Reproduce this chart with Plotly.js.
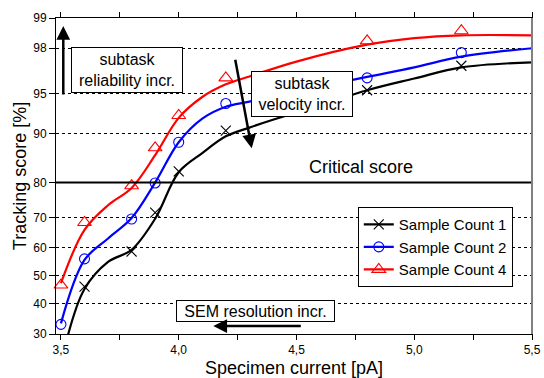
<!DOCTYPE html>
<html>
<head>
<meta charset="utf-8">
<script src="https://cdn.plot.ly/plotly-3.0.1.min.js"></script>
<style>html,body{margin:0;padding:0;background:#fff;}#chart{width:544px;height:378px;}</style>
</head>
<body>
<div id="chart"></div>
<script>
// ---- data (percent values) ----
const seriesNames = ["Sample Count 1", "Sample Count 2", "Sample Count 4"];

const markX1 = [3.6, 3.8, 3.9, 4.0, 4.2, 4.8, 5.2];
const markY1 = [46.1, 58.7, 71.6, 82.7, 90.5, 95.3, 97.1];
const markX2 = [3.5, 3.6, 3.8, 3.9, 4.0, 4.2, 4.8, 5.2];
const markY2 = [33.1, 56.1, 69.6, 79.9, 88.6, 94.0, 96.3, 97.8];
const markX4 = [3.5, 3.6, 3.8, 3.9, 4.0, 4.2, 4.8, 5.2];
const markY4 = [46.7, 68.5, 79.2, 87.6, 92.6, 96.3, 98.3, 98.65];

// fitted curves
const fitX1 = [3.53, 3.6, 3.7, 3.8, 3.9, 4.0, 4.1, 4.2, 4.3, 4.4, 4.6, 4.8, 5.0, 5.2, 5.5];
const fitY1 = [29.7, 45.3, 55.0, 59.3, 69.7, 82.5, 86.6, 89.6, 90.95, 92.05, 93.8, 95.3, 96.25, 97.0, 97.3];
const fitX2 = [3.5, 3.6, 3.7, 3.8, 3.9, 4.0, 4.1, 4.2, 4.3, 4.5, 4.8, 5.0, 5.2, 5.5];
const fitY2 = [33.4, 55.7, 63.2, 69.9, 80.0, 88.6, 92.2, 93.65, 94.2, 95.2, 96.37, 97.0, 97.6, 98.0];
const fitX4 = [3.5, 3.6, 3.7, 3.8, 3.9, 4.0, 4.1, 4.2, 4.3, 4.5, 4.8, 5.0, 5.2, 5.5];
const fitY4 = [47.35, 66.1, 73.8, 78.6, 86.2, 92.3, 94.67, 95.8, 96.4, 97.34, 98.15, 98.4, 98.5, 98.5];

const yTickValues = [30, 40, 50, 60, 70, 80, 90, 95, 98, 99];
const yRange = [30, 99];
const xRange = [3.479, 5.5];
const criticalScore = 80;

// ---- probability (probit) scale ----
function probit(p) {
  const a = [-3.969683028665376e+01, 2.209460984245205e+02, -2.759285104469687e+02, 1.383577518672690e+02, -3.066479806614716e+01, 2.506628277459239e+00];
  const b = [-5.447609879822406e+01, 1.615858368580409e+02, -1.556989798598866e+02, 6.680131188771972e+01, -1.328068155288572e+01];
  const c = [-7.784894002430293e-03, -3.223964580411365e-01, -2.400758277161838e+00, -2.549671348172474e+00, 4.374664141464968e+00, 2.938163982698783e+00];
  const d = [7.784695709041462e-03, 3.224671290700398e-01, 2.445134137142996e+00, 3.754408661907416e+00];
  const plow = 0.02425, phigh = 1 - plow;
  let q, r;
  if (p < plow) {
    q = Math.sqrt(-2 * Math.log(p));
    return (((((c[0]*q+c[1])*q+c[2])*q+c[3])*q+c[4])*q+c[5]) / ((((d[0]*q+d[1])*q+d[2])*q+d[3])*q+1);
  } else if (p <= phigh) {
    q = p - 0.5; r = q*q;
    return (((((a[0]*r+a[1])*r+a[2])*r+a[3])*r+a[4])*r+a[5])*q / (((((b[0]*r+b[1])*r+b[2])*r+b[3])*r+b[4])*r+1);
  } else {
    q = Math.sqrt(-2 * Math.log(1 - p));
    return -(((((c[0]*q+c[1])*q+c[2])*q+c[3])*q+c[4])*q+c[5]) / ((((d[0]*q+d[1])*q+d[2])*q+d[3])*q+1);
  }
}
const P = v => probit(v / 100);
const PA = arr => arr.map(P);

const colors = ["#000000", "#0000ff", "#ff0000"];
const symbols = ["x-thin-open", "circle-open", "triangle-up-open"];
const sizes = [10, 10, 12];
const fits = [[fitX1, fitY1], [fitX2, fitY2], [fitX4, fitY4]];
const marks = [[markX1, markY1], [markX2, markY2], [markX4, markY4]];

const traces = [];
for (let i = 0; i < 3; i++) {
  traces.push({
    x: fits[i][0], y: PA(fits[i][1]), mode: "lines", type: "scatter",
    line: {color: colors[i], width: 2.2, shape: "spline", smoothing: 1},
    showlegend: false, hoverinfo: "skip", cliponaxis: true
  });
  traces.push({
    x: marks[i][0], y: PA(marks[i][1]), mode: "markers", type: "scatter",
    marker: {symbol: symbols[i], size: sizes[i], color: colors[i], line: {color: colors[i], width: 1.1}},
    showlegend: false, cliponaxis: false
  });
}
for (let i = 0; i < 3; i++) {
  traces.push({
    x: [null], y: [null], mode: "lines+markers", type: "scatter", name: seriesNames[i],
    line: {color: colors[i], width: 2.2},
    marker: {symbol: symbols[i], size: sizes[i], color: colors[i], line: {color: colors[i], width: 1.1}}
  });
}

const font = "Arial, 'Liberation Sans', sans-serif";
const annFont = {family: font, size: 16, color: "#000"};

const layout = {
  width: 544, height: 378,
  margin: {l: 56, r: 12, t: 18, b: 44, pad: 0},
  paper_bgcolor: "#fff", plot_bgcolor: "#fff",
  separators: ",.",
  font: {family: font, size: 12, color: "#000"},
  showlegend: true,
  legend: {
    x: 0.634, y: 0.275, xanchor: "left", yanchor: "middle",
    bgcolor: "#fff", bordercolor: "#000", borderwidth: 1,
    font: {family: font, size: 15, color: "#000"},
    tracegroupgap: 0, itemwidth: 30
  },
  xaxis: {
    range: xRange, tick0: 3.5, dtick: 0.5, tickformat: ".1f",
    ticks: "outside", ticklen: 5, tickwidth: 1, tickcolor: "#000",
    minor: {dtick: 0.25, tick0: 3.5, ticks: "outside", ticklen: 5, tickwidth: 1, tickcolor: "#000", showgrid: false},
    showline: true, linecolor: "#000", linewidth: 1, mirror: "ticks",
    showgrid: false, zeroline: false,
    tickfont: {family: font, size: 12, color: "#000"},
    title: {text: "Specimen current [pA]", font: {family: font, size: 18, color: "#000"}, standoff: 4}
  },
  yaxis: {
    range: [P(yRange[0]), P(yRange[1])],
    tickmode: "array", tickvals: PA(yTickValues), ticktext: yTickValues.map(String),
    ticks: "outside", ticklen: 6, tickwidth: 1, tickcolor: "#000",
    showline: true, linecolor: "#000", linewidth: 1, mirror: true,
    showgrid: true, gridcolor: "#000", gridwidth: 1, griddash: "3px,3px",
    zeroline: false, automargin: true,
    tickfont: {family: font, size: 12, color: "#000"},
    title: {text: "Tracking score [%]", font: {family: font, size: 18, color: "#000"}, standoff: 1}
  },
  shapes: [
    {type: "line", xref: "paper", x0: 0, x1: 1, yref: "y", y0: P(criticalScore), y1: P(criticalScore),
     line: {color: "#000", width: 2}},
    {type: "line", xref: "paper", x0: 1, x1: 1, yref: "paper", y0: 0, y1: 1,
     line: {color: "#808080", width: 2}}
  ],
  annotations: [
    {xref: "paper", yref: "paper", x: 0.1492, y: 0.836, text: "subtask<br>reliability incr.",
     showarrow: false, font: annFont, bgcolor: "#fff", bordercolor: "#000", borderwidth: 1, borderpad: 2,
     width: 106, height: 40, align: "center", xanchor: "center", yanchor: "middle"},
    {xref: "paper", yref: "paper", x: 0.5162, y: 0.7598, text: "subtask<br>velocity incr.",
     showarrow: false, font: annFont, bgcolor: "#fff", bordercolor: "#000", borderwidth: 1, borderpad: 2,
     width: 96, height: 40, align: "center", xanchor: "center", yanchor: "middle"},
    {xref: "paper", yref: "paper", x: 0.4191, y: 0.0731, text: "SEM resolution incr.",
     showarrow: false, font: annFont, bgcolor: "#fff", bordercolor: "#000", borderwidth: 1, borderpad: 1,
     width: 155, height: 18, align: "center", xanchor: "center", yanchor: "middle"},
    {xref: "paper", yref: "paper", x: 0.6408, y: 0.5294, text: "Critical score",
     showarrow: false, font: {family: font, size: 18, color: "#000"}, xanchor: "center", yanchor: "middle"},
    {xref: "paper", yref: "paper", x: 0.0153, y: 0.9747, text: "", showarrow: true,
     ax: 0, ay: 70, arrowhead: 2, arrowsize: 1.1, arrowwidth: 2.5, arrowcolor: "#000", standoff: 0},
    {xref: "paper", yref: "paper", x: 0.4111, y: 0.5877, text: "", showarrow: true,
     ax: -16.7, ay: -90, arrowhead: 2, arrowsize: 1.1, arrowwidth: 2.5, arrowcolor: "#000", standoff: 0},
    {xref: "paper", yref: "paper", x: 0.3305, y: 0.0253, text: "", showarrow: true,
     ax: 89, ay: 0, arrowhead: 2, arrowsize: 1.1, arrowwidth: 2.5, arrowcolor: "#000", standoff: 0}
  ]
};

Plotly.newPlot("chart", traces, layout, {displayModeBar: false, staticPlot: true});
</script>
</body>
</html>
